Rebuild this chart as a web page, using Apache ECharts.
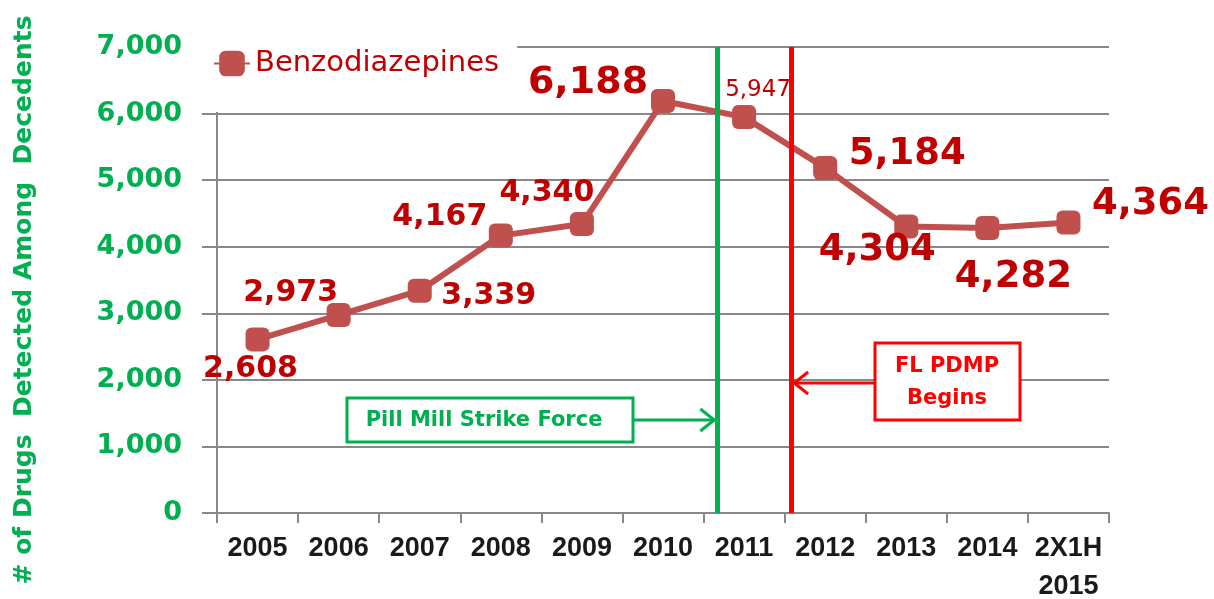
<!DOCTYPE html>
<html lang="en">

<head>
    <meta charset="UTF-8">
    <title>Benzodiazepines</title>
</head>
<style>
    body {
        margin: 0;
        background-color: white;
    }

    #main {
        width: 1214px;
        height: 599px;
    }
</style>
<script src="https://cdn.jsdelivr.net/npm/echarts@6/dist/echarts.min.js"></script>

<body>
    <div id="main"></div>

    <script>
        // data
        let categories = ['2005', '2006', '2007', '2008', '2009', '2010', '2011', '2012', '2013', '2014', '2X1H\n2015'];
        let benzoValues = [2608, 2973, 3339, 4167, 4340, 6188, 5947, 5184, 4304, 4282, 4364];
        let yMin = 0, yMax = 7000, yStep = 1000;
        // events, as a position on the category scale (0 = 2005)
        let eventNames = ['Pill Mill Strike Force', 'FL PDMP\nBegins'];
        let eventAt = [5.67, 6.58];

        let myChart = echarts.init(document.getElementById('main'));
        let fmt = v => v.toLocaleString('en-US');

        // where each value label sits next to its point
        let labelPlacement = [
            { offset: [-7, 30], size: 30 },
            { offset: [-48, -22], size: 30 },
            { offset: [69, 5], size: 30 },
            { offset: [-61, -18], size: 30 },
            { offset: [-35, -31], size: 30 },
            { offset: [-75, -18], size: 38 },
            { offset: [14, -27], size: 23, weight: 'normal' },
            { offset: [82, -14], size: 37 },
            { offset: [-29, 24], size: 37 },
            { offset: [26, 49], size: 37 },
            { offset: [82, -18], size: 37 }
        ];

        let eventColors = ['#00b050', '#ff0000'];

        option = {
            animation: false,
            grid: {
                left: 217,
                right: 105,
                top: 47,
                bottom: 86,
                outerBoundsMode: 'none'
            },
            legend: {
                left: 200,
                top: 36,
                padding: [13, 18, 34, 13],
                backgroundColor: '#fff',
                itemWidth: 36,
                itemHeight: 32,
                textStyle: {
                    fontFamily: 'DejaVu Sans',
                    fontSize: 29,
                    color: '#c00000'
                },
                data: ['Benzodiazepines']
            },
            xAxis: [
                {
                    type: 'category',
                    data: categories,
                    axisLine: { onZero: false, lineStyle: { color: '#888', width: 2 } },
                    axisTick: { show: true, interval: 0, length: 10, lineStyle: { color: '#888', width: 2 } },
                    axisLabel: {
                        interval: 0,
                        margin: 17,
                        fontFamily: 'Liberation Sans',
                        fontWeight: 'bold',
                        fontSize: 27,
                        lineHeight: 38,
                        color: '#1a1a1a'
                    }
                },
                {
                    type: 'value',
                    min: -0.5,
                    max: 10.5,
                    show: false
                }
            ],
            yAxis: {
                type: 'value',
                min: yMin,
                max: yMax,
                interval: yStep,
                axisLine: { show: true, onZero: false, lineStyle: { color: '#888', width: 2 } },
                axisTick: { show: true, length: 15, lineStyle: { color: '#888', width: 2 } },
                splitLine: { lineStyle: { color: '#888', width: 2 } },
                axisLabel: {
                    margin: 35,
                    formatter: fmt,
                    fontFamily: 'DejaVu Sans',
                    fontWeight: 'bold',
                    fontSize: 27,
                    color: '#00b050'
                }
            },
            series: [
                {
                    name: 'Benzodiazepines',
                    type: 'line',
                    z: 2,
                    data: benzoValues.map((v, i) => ({
                        value: v,
                        label: {
                            offset: labelPlacement[i].offset,
                            fontSize: labelPlacement[i].size,
                            fontWeight: labelPlacement[i].weight || 'bold'
                        }
                    })),
                    symbol: 'roundRect',
                    symbolSize: 24,
                    itemStyle: { color: '#c0504d' },
                    lineStyle: { color: '#c0504d', width: 6 },
                    label: {
                        show: true,
                        position: 'inside',
                        formatter: p => fmt(p.value),
                        fontFamily: 'DejaVu Sans',
                        color: '#c00000'
                    }
                },
                {
                    name: 'events',
                    type: 'line',
                    xAxisIndex: 1,
                    z: 3,
                    data: [],
                    markLine: {
                        silent: true,
                        symbol: 'none',
                        label: { show: false },
                        data: eventAt.map((x, i) => [
                            { coord: [x, yMin], lineStyle: { color: eventColors[i], width: 5, type: 'solid' } },
                            { coord: [x, yMax] }
                        ])
                    }
                }
            ]
        };

        myChart.setOption(option);

        // annotation boxes with arrows pointing at the event lines
        let greenX = myChart.convertToPixel({ xAxisIndex: 1 }, eventAt[0]);
        let redX = myChart.convertToPixel({ xAxisIndex: 1 }, eventAt[1]);
        let greenY = 420, redY = 383;

        myChart.setOption({
            graphic: [
                {
                    type: 'text',
                    x: 24,
                    y: 300,
                    rotation: Math.PI / 2,
                    style: {
                        text: '# of Drugs  Detected Among  Decedents',
                        fontFamily: 'DejaVu Sans',
                        fontWeight: 'bold',
                        fontSize: 25,
                        fill: '#00b050',
                        align: 'center',
                        verticalAlign: 'middle'
                    }
                },
                {
                    type: 'rect',
                    z: 10,
                    shape: { x: 347, y: 398, width: 286, height: 44 },
                    style: { fill: '#fff', stroke: eventColors[0], lineWidth: 3 }
                },
                {
                    type: 'text',
                    z: 11,
                    x: 484,
                    y: 421,
                    style: {
                        text: eventNames[0],
                        fontFamily: 'DejaVu Sans',
                        fontWeight: 'bold',
                        fontSize: 21,
                        fill: eventColors[0],
                        align: 'center',
                        verticalAlign: 'middle'
                    }
                },
                {
                    type: 'polyline',
                    z: 10,
                    shape: { points: [[633, greenY], [greenX - 3, greenY]] },
                    style: { stroke: eventColors[0], lineWidth: 3 }
                },
                {
                    type: 'polyline',
                    z: 10,
                    shape: { points: [[greenX - 17, greenY - 11], [greenX - 3, greenY], [greenX - 17, greenY + 11]] },
                    style: { stroke: eventColors[0], lineWidth: 3, fill: null }
                },
                {
                    type: 'rect',
                    z: 10,
                    shape: { x: 875, y: 343, width: 145, height: 77 },
                    style: { fill: '#fff', stroke: eventColors[1], lineWidth: 3 }
                },
                {
                    type: 'text',
                    z: 11,
                    x: 947,
                    y: 383,
                    style: {
                        text: eventNames[1],
                        fontFamily: 'DejaVu Sans',
                        fontWeight: 'bold',
                        fontSize: 21,
                        lineHeight: 32,
                        fill: eventColors[1],
                        align: 'center',
                        verticalAlign: 'middle'
                    }
                },
                {
                    type: 'polyline',
                    z: 10,
                    shape: { points: [[875, redY], [redX + 3, redY]] },
                    style: { stroke: eventColors[1], lineWidth: 3 }
                },
                {
                    type: 'polyline',
                    z: 10,
                    shape: { points: [[redX + 17, redY - 11], [redX + 3, redY], [redX + 17, redY + 11]] },
                    style: { stroke: eventColors[1], lineWidth: 3, fill: null }
                }
            ]
        });
    </script>

</body>

</html>
